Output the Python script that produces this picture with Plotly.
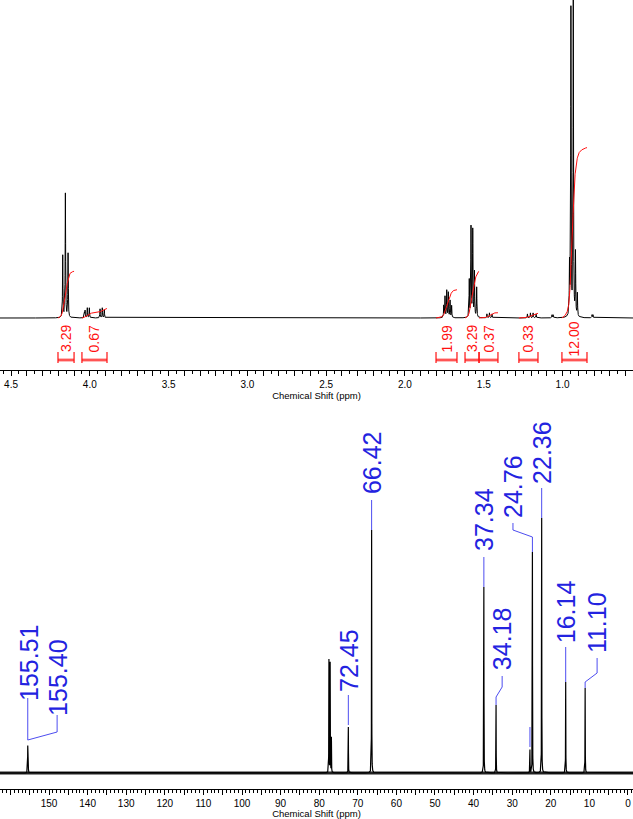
import numpy as np
import plotly.graph_objects as go

# ---------------- 1H NMR data (ppm, relative intensity) ----------------
h_ppm = [4.172, 4.155, 4.138,
         4.034, 4.030, 4.016, 4.003, 3.935, 3.921, 3.908,
         1.754, 1.746, 1.735, 1.725, 1.714, 1.704,
         1.592, 1.581, 1.570, 1.559, 1.545,
         1.480, 1.464, 1.448,
         1.223, 1.204, 1.187, 1.168,
         1.067, 1.060,
         0.956, 0.947, 0.932, 0.918, 0.906,
         0.813, 0.807]
h_int = [62, 124, 64,
         5, 7, 10, 10, 9, 10, 8,
         12, 21, 27, 25, 17, 12,
         37, 90, 87, 45, 30,
         4, 5, 4,
         4, 5, 5, 4,
         3, 3,
         50, 307, 315, 63, 23,
         3, 3]

# integration regions (ppm start, ppm end) and integral values
int_start = [4.202, 4.050, 1.803, 1.619, 1.530, 1.277, 1.004]
int_end = [4.100, 3.891, 1.670, 1.530, 1.410, 1.156, 0.845]
int_values = [3.29, 0.67, 1.99, 3.29, 0.37, 0.33, 12.00]

# 1H axis ticks
h_ticks = [round(0.6 + 0.1 * i, 1) for i in range(40)]
h_tick_labels = ["4.5", "4.0", "3.5", "3.0", "2.5", "2.0", "1.5", "1.0"]

# ---------------- 13C NMR data ----------------
c_ppm = [155.51, 155.40, 77.48, 77.16, 76.84, 72.45, 66.42, 37.34, 34.18,
         25.40, 24.76, 22.36, 16.14, 11.10]
c_int = [26, 20, 113, 110, 35, 46, 243, 186, 68, 23, 221, 255, 91, 85]
c_labeled = [155.51, 155.40, 72.45, 66.42, 37.34, 34.18, 24.76, 22.36, 16.14, 11.10]

# 13C axis ticks
c_ticks = list(range(0, 161, 5))
c_tick_labels = [str(v) for v in range(0, 151, 10)]

# label placement (text x in ppm, text centre y) and leader paths
c_label_x = [155.2, 147.7, 72.3, 66.3, 37.3, 32.6, 29.8, 22.3, 16.0, 8.0]
c_label_y = [110, 95, 113, 310, 253, 134, 287, 321, 161, 150]
c_leader_x = [[155.51, 155.51], [155.51, 147.9, 147.9], [72.45, 72.45],
              [66.42, 66.42], [37.34, 37.34], [34.18, 34.18, 32.6, 32.6],
              [24.76, 24.76, 29.8, 29.8], [22.36, 22.36], [16.14, 16.14],
              [11.10, 11.10, 8.0, 8.0], [25.40, 25.40]]
c_leader_y = [[33, 75], [33, 41, 58], [48, 78], [243, 273], [186, 216],
              [68, 76, 86, 97], [221, 236, 243, 250], [255, 285], [91, 126],
              [85, 91, 100, 115], [26, 46]]

FONT = "Liberation Sans, Arial, sans-serif"
RED = "#ff1010"
BLUE = "#2323e0"


def lorentz(x, centers, heights, w):
    y = np.zeros_like(x)
    for c, h in zip(centers, heights):
        y += h * w ** 2 / ((x - c) ** 2 + w ** 2)
    return y


fig = go.Figure()

# ---- 1H spectrum ----
hx = np.union1d(np.linspace(0.55, 4.58, 9000), np.array(h_ppm))
hy = lorentz(hx, h_ppm, h_int, 0.0016)
fig.add_trace(go.Scatter(x=hx, y=hy, mode="lines", line=dict(color="black", width=1),
                         hoverinfo="skip", xaxis="x", yaxis="y"))

# ---- integrals ----
SCALE = 14.2
for a, b, v in zip(int_start, int_end, int_values):
    xr = np.linspace(b, a, 300)[::-1]
    sel = [(c, h) for c, h in zip(h_ppm, h_int) if b <= c <= a]
    yb = lorentz(xr, [s[0] for s in sel], [s[1] for s in sel], 0.006)
    cum = np.cumsum(yb)
    cum = cum - cum[0]
    cum = cum / cum[-1] * v * SCALE
    fig.add_trace(go.Scatter(x=xr, y=cum, mode="lines", line=dict(color=RED, width=1),
                             hoverinfo="skip", xaxis="x", yaxis="y"))
    # bracket
    fig.add_trace(go.Scatter(x=[a, b], y=[-42, -42], mode="lines",
                             line=dict(color="rgba(255,60,60,0.35)", width=4),
                             hoverinfo="skip", xaxis="x", yaxis="y"))
    fig.add_trace(go.Scatter(x=[a, a, None, a, b, None, b, b], y=[-34, -45, None, -42, -42, None, -34, -45],
                             mode="lines", line=dict(color=RED, width=1.2),
                             hoverinfo="skip", xaxis="x", yaxis="y"))
    fig.add_annotation(x=(a + b) / 2, y=-21, xref="x", yref="y", text=f"{v:.2f}",
                       textangle=-90, showarrow=False,
                       font=dict(family=FONT, size=14, color=RED))

# ---- 13C spectrum ----
cx = np.union1d(np.linspace(-1.5, 163, 16000), np.array(c_ppm))
cy = lorentz(cx, c_ppm, c_int, 0.03)
fig.add_trace(go.Scatter(x=[163, -1.5], y=[0, 0], mode="lines",
                         line=dict(color="#222", width=3), hoverinfo="skip",
                         xaxis="x2", yaxis="y2"))
fig.add_trace(go.Scatter(x=cx, y=cy, mode="lines", line=dict(color="black", width=1.2),
                         hoverinfo="skip", xaxis="x2", yaxis="y2"))

for lx, ly in zip(c_leader_x, c_leader_y):
    fig.add_trace(go.Scatter(x=lx, y=ly, mode="lines", line=dict(color="#4d4df0", width=1),
                             hoverinfo="skip", xaxis="x2", yaxis="y2"))

for p, tx, ty in zip(c_labeled, c_label_x, c_label_y):
    fig.add_annotation(x=tx, y=ty, xref="x2", yref="y2", text=f"{p:.2f}",
                       textangle=-90, showarrow=False,
                       font=dict(family=FONT, size=25, color=BLUE))

axis_common = dict(showline=True, linecolor="black", linewidth=1, ticks="outside",
                   ticklen=5, tickwidth=1, tickcolor="black", showgrid=False,
                   zeroline=False, tickfont=dict(family=FONT, size=10, color="black"),
                   title=dict(text="Chemical Shift (ppm)", standoff=0,
                              font=dict(family=FONT, size=9.5, color="black")))

h_text = [f"{v:.1f}" if f"{v:.1f}" in h_tick_labels else "" for v in h_ticks]
c_text = [str(v) if str(v) in c_tick_labels else "" for v in c_ticks]

fig.update_layout(
    width=633, height=819,
    margin=dict(l=0, r=0, t=0, b=0),
    paper_bgcolor="white", plot_bgcolor="white",
    showlegend=False,
    xaxis=dict(domain=[0, 1], anchor="y", range=[4.570, 0.553],
               tickmode="array", tickvals=h_ticks, ticktext=h_text,
               minor=dict(dtick=0.05, tick0=0, ticks="outside", ticklen=3, tickcolor="black"),
               **axis_common),
    yaxis=dict(domain=[449 / 819, 1], range=[-52, 318], visible=False),
    xaxis2=dict(domain=[0, 1], anchor="y2", range=[162.7, -1.3],
                tickmode="array", tickvals=c_ticks, ticktext=c_text,
                minor=dict(dtick=1, tick0=0, ticks="outside", ticklen=2.5, tickcolor="black"),
                **axis_common),
    yaxis2=dict(domain=[30 / 819, 409 / 819], range=[-16, 363], visible=False),
)

fig.write_html("out.html", config={"displayModeBar": False})

# remove the default page margin so the figure fills the window exactly
with open("out.html", "r", encoding="utf-8") as f:
    html = f.read()
html = html.replace("<head>", "<head><style>html,body{margin:0;padding:0;overflow:hidden;}</style>", 1)
with open("out.html", "w", encoding="utf-8") as f:
    f.write(html)
